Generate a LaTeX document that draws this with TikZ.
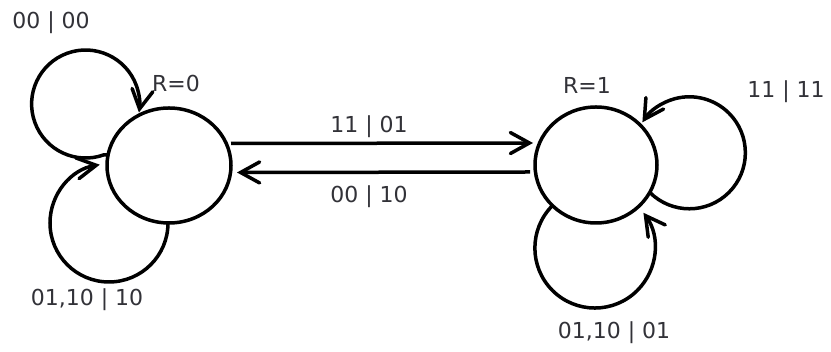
\documentclass[tikz,border=0pt]{standalone}
\usepackage{fontspec}
\setmainfont{DejaVu Sans}
\usetikzlibrary{arrows.meta,shapes.geometric}
\definecolor{labelgray}{RGB}{50,50,56}
\begin{document}
\begin{tikzpicture}[x=1pt,y=1pt,
  state/.style={ellipse,draw,line width=3.5pt,minimum width=124pt,minimum height=115pt,inner sep=0pt,outer sep=0pt},
  edge/.style={line width=3.5pt,line join=round,-{Straight Barb[length=19pt,width=21pt,line cap=round]}},
  lbl/.style={text=labelgray,font=\fontsize{22}{26}\selectfont,inner sep=0pt}]
\useasboundingbox[fill=white] (0,0) rectangle (831,352);

% the two states
\node[state] (A) at (169,186.5) {};
\node[state,minimum width=122pt,minimum height=116pt] (B) at (596,187) {};

% self loops on R=0
\draw[edge] (A.170) -- ++(-4,0) arc[start angle=-70,end angle=-369,radius=54];
\draw[edge] (A.269) arc[start angle=0,end angle=-261,radius=59];

% self loops on R=1
\draw[edge] (B.-27) arc[start angle=225,end angle=507,radius=56];
\draw[edge] (B.223) arc[start angle=135,end angle=396,radius=60];

% transitions between the states
\draw[edge] ([yshift=22pt]A.east) -- ([xshift=-2pt,yshift=22pt]B.west);
\draw[edge] ([xshift=-5pt,yshift=-7pt]B.west) -- ([xshift=6pt,yshift=-7pt]A.east);

% labels
\node[lbl] (r0) at (176,268) {R=0};
\node[lbl] (r1) at (587,266.5) {R=1};
\node[lbl] (t0000) at (51,329) {00 | 00};
\node[lbl] (t0110a) at (87,52) {01,10 | 10};
\node[lbl] (t1101) at (369,225) {11 | 01};
\node[lbl] (t0010) at (369,155) {00 | 10};
\node[lbl] (t1111) at (786,260.5) {11 | 11};
\node[lbl] (t0110b) at (614,19) {01,10 | 01};
\end{tikzpicture}
\end{document}
